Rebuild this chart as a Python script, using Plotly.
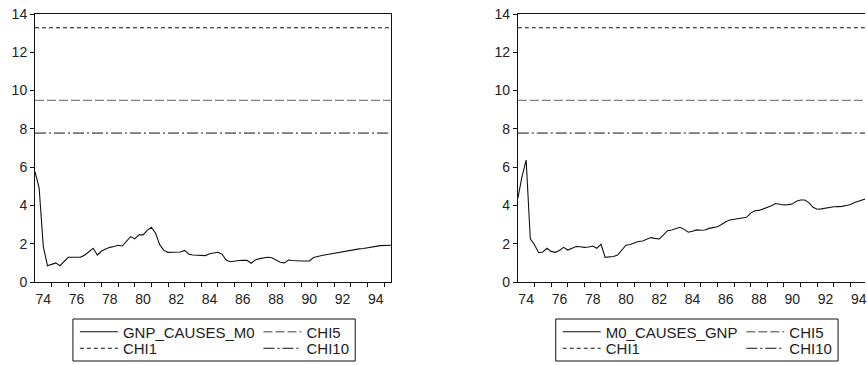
import plotly.graph_objects as go

# ---------------- data ----------------
start_year = 1974.0
quarter = 0.25

gnp_causes_m0 = [5.76, 4.9, 1.85, 0.85, 0.92, 1.0, 0.85, 1.08, 1.29, 1.29,
                 1.29, 1.3, 1.41, 1.58, 1.76, 1.41, 1.62, 1.72, 1.81, 1.85,
                 1.92, 1.88, 2.1, 2.37, 2.25, 2.46, 2.46, 2.7, 2.86, 2.55,
                 1.95, 1.65, 1.55, 1.55, 1.56, 1.57, 1.65, 1.45, 1.41, 1.41,
                 1.41, 1.38, 1.48, 1.53, 1.55, 1.45, 1.15, 1.06, 1.1, 1.12,
                 1.14, 1.13, 0.98, 1.15, 1.22, 1.27, 1.29, 1.27, 1.15, 1.03,
                 1.0, 1.15, 1.12, 1.1, 1.1, 1.1, 1.1, 1.28, 1.35, 1.38,
                 1.42, 1.46, 1.5, 1.55, 1.6, 1.64, 1.66, 1.7, 1.73, 1.75,
                 1.78, 1.8, 1.86, 1.9, 1.91, 1.92, 1.92]

m0_causes_gnp = [4.37, 5.5, 6.37, 2.25, 1.95, 1.53, 1.57, 1.76, 1.6, 1.55,
                 1.65, 1.81, 1.67, 1.75, 1.85, 1.84, 1.81, 1.83, 1.88, 1.76,
                 1.97, 1.29, 1.3, 1.33, 1.41, 1.65, 1.92, 1.96, 2.05, 2.12,
                 2.14, 2.25, 2.32, 2.28, 2.25, 2.45, 2.68, 2.72, 2.78, 2.86,
                 2.75, 2.6, 2.65, 2.72, 2.7, 2.72, 2.8, 2.85, 2.89, 3.0,
                 3.15, 3.24, 3.27, 3.29, 3.33, 3.38, 3.6, 3.72, 3.74, 3.82,
                 3.89, 3.98, 4.1, 4.07, 4.02, 4.04, 4.07, 4.22, 4.28, 4.28,
                 4.15, 3.9, 3.8, 3.82, 3.86, 3.92, 3.93, 3.94, 3.95, 4.0,
                 4.05, 4.15, 4.24, 4.3, 4.36, 4.4, 4.45]

dates = [start_year + i * quarter for i in range(len(gnp_causes_m0))]

chi_names = ["CHI1", "CHI5", "CHI10"]
chi_values = [13.28, 9.49, 7.78]

x_tick_years = list(range(1974, 1995, 2))
x_tick_labels = [str(y)[2:] for y in x_tick_years]
y_ticks = list(range(0, 15, 2))

# ---------------- layout helpers ----------------
W, H = 867, 365
ML, MR, MT, MB = 35, 0, 14, 83
PW = W - ML - MR
PH = H - MT - MB


def px_x(px):
    return (px - ML) / PW


def px_y(py):
    return (H - MB - py) / PH


chi_styles = {
    "CHI1": dict(color="#111111", width=1, dash="4px,3px"),
    "CHI5": dict(color="#808080", width=1.4, dash="9px,3px"),
    "CHI10": dict(color="#111111", width=1, dash="11px,3px,2px,3px"),
}

panels = [
    dict(name="GNP_CAUSES_M0", values=gnp_causes_m0, xa="x", ya="y",
         domain=[0, px_x(392)], xrange=[1974.0, 1995.42], box_left=73, mirror_y=True),
    dict(name="M0_CAUSES_GNP", values=m0_causes_gnp, xa="x2", ya="y2",
         domain=[px_x(519), 1.0], xrange=[1974.0, 1974.0 + 348 / 16.67], box_left=557, mirror_y=False),
]

fig = go.Figure()
legend_layouts = {}
shapes = []
leg_id = 1
row_y = [332, 349]
font = dict(family="Liberation Sans, Arial, sans-serif", size=15, color="#222222")

for p in panels:
    items = [
        (p["name"], p["values"], dict(color="#111111", width=1.1), 0, 0),
        ("CHI5", None, chi_styles["CHI5"], 1, 0),
        ("CHI1", None, chi_styles["CHI1"], 0, 1),
        ("CHI10", None, chi_styles["CHI10"], 1, 1),
    ]
    for name, vals, style, col, row in items:
        if vals is None:
            v = chi_values[chi_names.index(name)]
            xs = [dates[0], dates[-1]]
            ys = [v, v]
        else:
            xs = dates
            ys = vals
        lname = "legend" if leg_id == 1 else f"legend{leg_id}"
        fig.add_trace(go.Scatter(
            x=xs, y=ys, mode="lines", name=name, line=style,
            xaxis=p["xa"], yaxis=p["ya"], legend=lname, hoverinfo="skip",
        ))
        bx = p["box_left"] + (2 if col == 0 else 186)
        legend_layouts[lname] = dict(
            x=px_x(bx), y=px_y(row_y[row]), xanchor="left", yanchor="middle",
            bgcolor="rgba(0,0,0,0)", borderwidth=0, font=font, itemwidth=38,
            orientation="v",
        )
        leg_id += 1
    shapes.append(dict(
        type="rect", xref="paper", yref="paper",
        x0=px_x(p["box_left"]), x1=px_x(p["box_left"] + 283),
        y0=px_y(361), y1=px_y(319),
        line=dict(color="#111111", width=1), fillcolor="rgba(0,0,0,0)",
    ))

layout = dict(
    width=W, height=H,
    margin=dict(l=ML, r=MR, t=MT, b=MB, pad=0),
    paper_bgcolor="white", plot_bgcolor="white",
    showlegend=True, shapes=shapes,
)
layout.update(legend_layouts)

tick_font = dict(family="Liberation Sans, Arial, sans-serif", size=14, color="#222222")
for i, p in enumerate(panels):
    suffix = "" if i == 0 else str(i + 1)
    layout["xaxis" + suffix] = dict(
        domain=p["domain"], range=p["xrange"], anchor="y" + suffix,
        tickmode="array", tickvals=[y + 0.5 for y in x_tick_years], ticktext=x_tick_labels,
        ticks="outside", ticklen=4, tickcolor="rgba(0,0,0,0)", ticklabeloverflow="allow",
        minor=dict(tickmode="array", tickvals=list(range(1975, 1996)),
                   ticks="outside", ticklen=4, tickwidth=1, tickcolor="#111111", showgrid=False),
        showgrid=False, zeroline=False, showline=True, linecolor="#111111", linewidth=1,
        mirror=True, tickfont=tick_font, fixedrange=True,
    )
    layout["yaxis" + suffix] = dict(
        domain=[0, 1], range=[0, 14], anchor="x" + suffix,
        tickmode="array", tickvals=y_ticks,
        ticks="outside", ticklen=4, tickwidth=1, tickcolor="#111111",
        showgrid=False, zeroline=False, showline=True, linecolor="#111111", linewidth=1,
        mirror=p["mirror_y"], tickfont=tick_font, fixedrange=True,
    )

fig.update_layout(**layout)
fig.write_html("out.html", config={"displayModeBar": False})
